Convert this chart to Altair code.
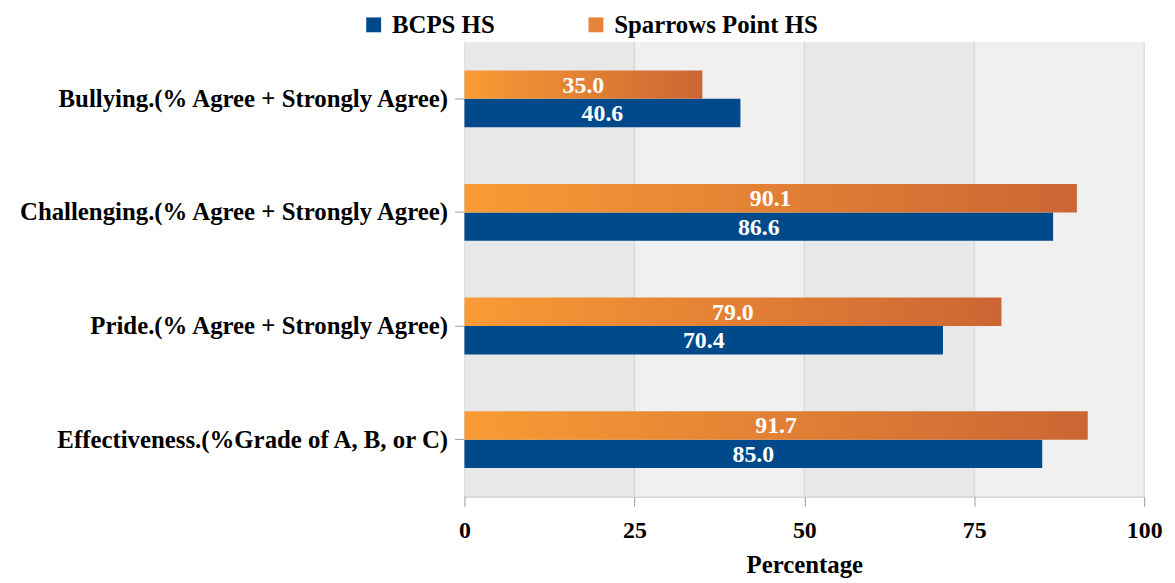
import altair as alt
import pandas as pd

categories = [
    "Bullying.(% Agree + Strongly Agree)",
    "Challenging.(% Agree + Strongly Agree)",
    "Pride.(% Agree + Strongly Agree)",
    "Effectiveness.(%Grade of A, B, or C)",
]
series_names = ["BCPS HS", "Sparrows Point HS"]
bcps = [40.6, 86.6, 70.4, 85.0]
sparrows = [35.0, 90.1, 79.0, 91.7]
x_ticks = [0, 25, 50, 75, 100]

FONT = "Liberation Serif"
BLUE = "#004a8c"
ORANGE = "#e8843a"

rows = []
for c, b, s in zip(categories, bcps, sparrows):
    rows.append({"category": c, "series": "BCPS HS", "value": b})
    rows.append({"category": c, "series": "Sparrows Point HS", "value": s})
df = pd.DataFrame(rows)

bands = pd.DataFrame({
    "start": x_ticks[:-1],
    "end": x_ticks[1:],
    "shade": ["a", "b", "a", "b"],
})
grid = pd.DataFrame({"tick": x_ticks[1:]})

grad_stops = [("#f99b35", 0), ("#cb6634", 1)]

x_scale = alt.Scale(domain=[0, 100], nice=False)
y_enc = alt.Y(
    "category:N",
    sort=categories,
    scale=alt.Scale(paddingInner=0.5, paddingOuter=0.25),
    title=None,
    axis=alt.Axis(
        labelFont=FONT, labelFontSize=25, labelFontWeight="bold", labelColor="#000000",
        labelPadding=7, tickSize=10, tickColor="#999999", domainColor="#aaaaaa",
        labelLimit=700,
    ),
)
yoff = alt.YOffset("series:N", scale=alt.Scale(domain=["Sparrows Point HS", "BCPS HS"]))

band_layer = alt.Chart(bands).mark_rect().encode(
    x=alt.X("start:Q", scale=x_scale,
            axis=alt.Axis(values=x_ticks, grid=False, labelFont=FONT, labelFontSize=24,
                          labelFontWeight="bold", labelColor="#000000", tickSize=10,
                          tickColor="#999999", domainColor="#aaaaaa", labelPadding=12,
                          title="Percentage", titleFont=FONT, titleFontSize=25,
                          titleFontWeight="bold", titleColor="#000000", titlePadding=11,
                          labelFlush=False)),
    x2="end:Q",
    color=alt.Color("shade:N", scale=alt.Scale(domain=["a", "b"], range=["#e8e8e8", "#f0f0f0"]),
                    legend=None),
)

grid_layer = alt.Chart(grid).mark_rule(color="#d0d0d0", strokeWidth=1).encode(
    x=alt.X("tick:Q", scale=x_scale)
)

blue_layer = alt.Chart(df).transform_filter(alt.datum.series == "BCPS HS").mark_bar().encode(
    x=alt.X("value:Q", scale=x_scale),
    y=y_enc,
    yOffset=yoff,
    fill=alt.Fill(
        "series:N",
        scale=alt.Scale(domain=series_names, range=[BLUE, ORANGE]),
        legend=alt.Legend(
            title=None, orient="none", direction="horizontal", legendX=-104, legendY=-30,
            symbolType="square", symbolSize=225, symbolStrokeWidth=0,
            labelFont=FONT, labelFontSize=25, labelFontWeight="bold", labelColor="#000000",
            columnPadding=89, labelOffset=6, labelLimit=400,
        ),
    ),
)

gradient = alt.Gradient(
    gradient="linear",
    stops=[alt.GradientStop(color=c, offset=o) for c, o in grad_stops],
    x1=0, x2=1, y1=0, y2=0,
)
orange_layer = alt.Chart(df).transform_filter(alt.datum.series == "Sparrows Point HS").mark_bar(
    fill=gradient
).encode(
    x=alt.X("value:Q", scale=x_scale),
    y=y_enc,
    yOffset=yoff,
)

text_layer = alt.Chart(df).transform_calculate(mid="datum.value / 2").mark_text(
    font=FONT, fontSize=24, fontWeight="bold", color="#ffffff", baseline="middle", align="center",
    dy=1,
).encode(
    x=alt.X("mid:Q", scale=x_scale),
    y=y_enc,
    yOffset=yoff,
    text=alt.Text("value:Q", format=".1f"),
)

chart = alt.layer(band_layer, grid_layer, blue_layer, orange_layer, text_layer).properties(
    width=685, height=458, padding={"left": 8, "top": 2, "right": 5, "bottom": 5}
).configure_view(stroke=None)

chart.save("out.html", embed_options={"renderer": "svg", "actions": False})
